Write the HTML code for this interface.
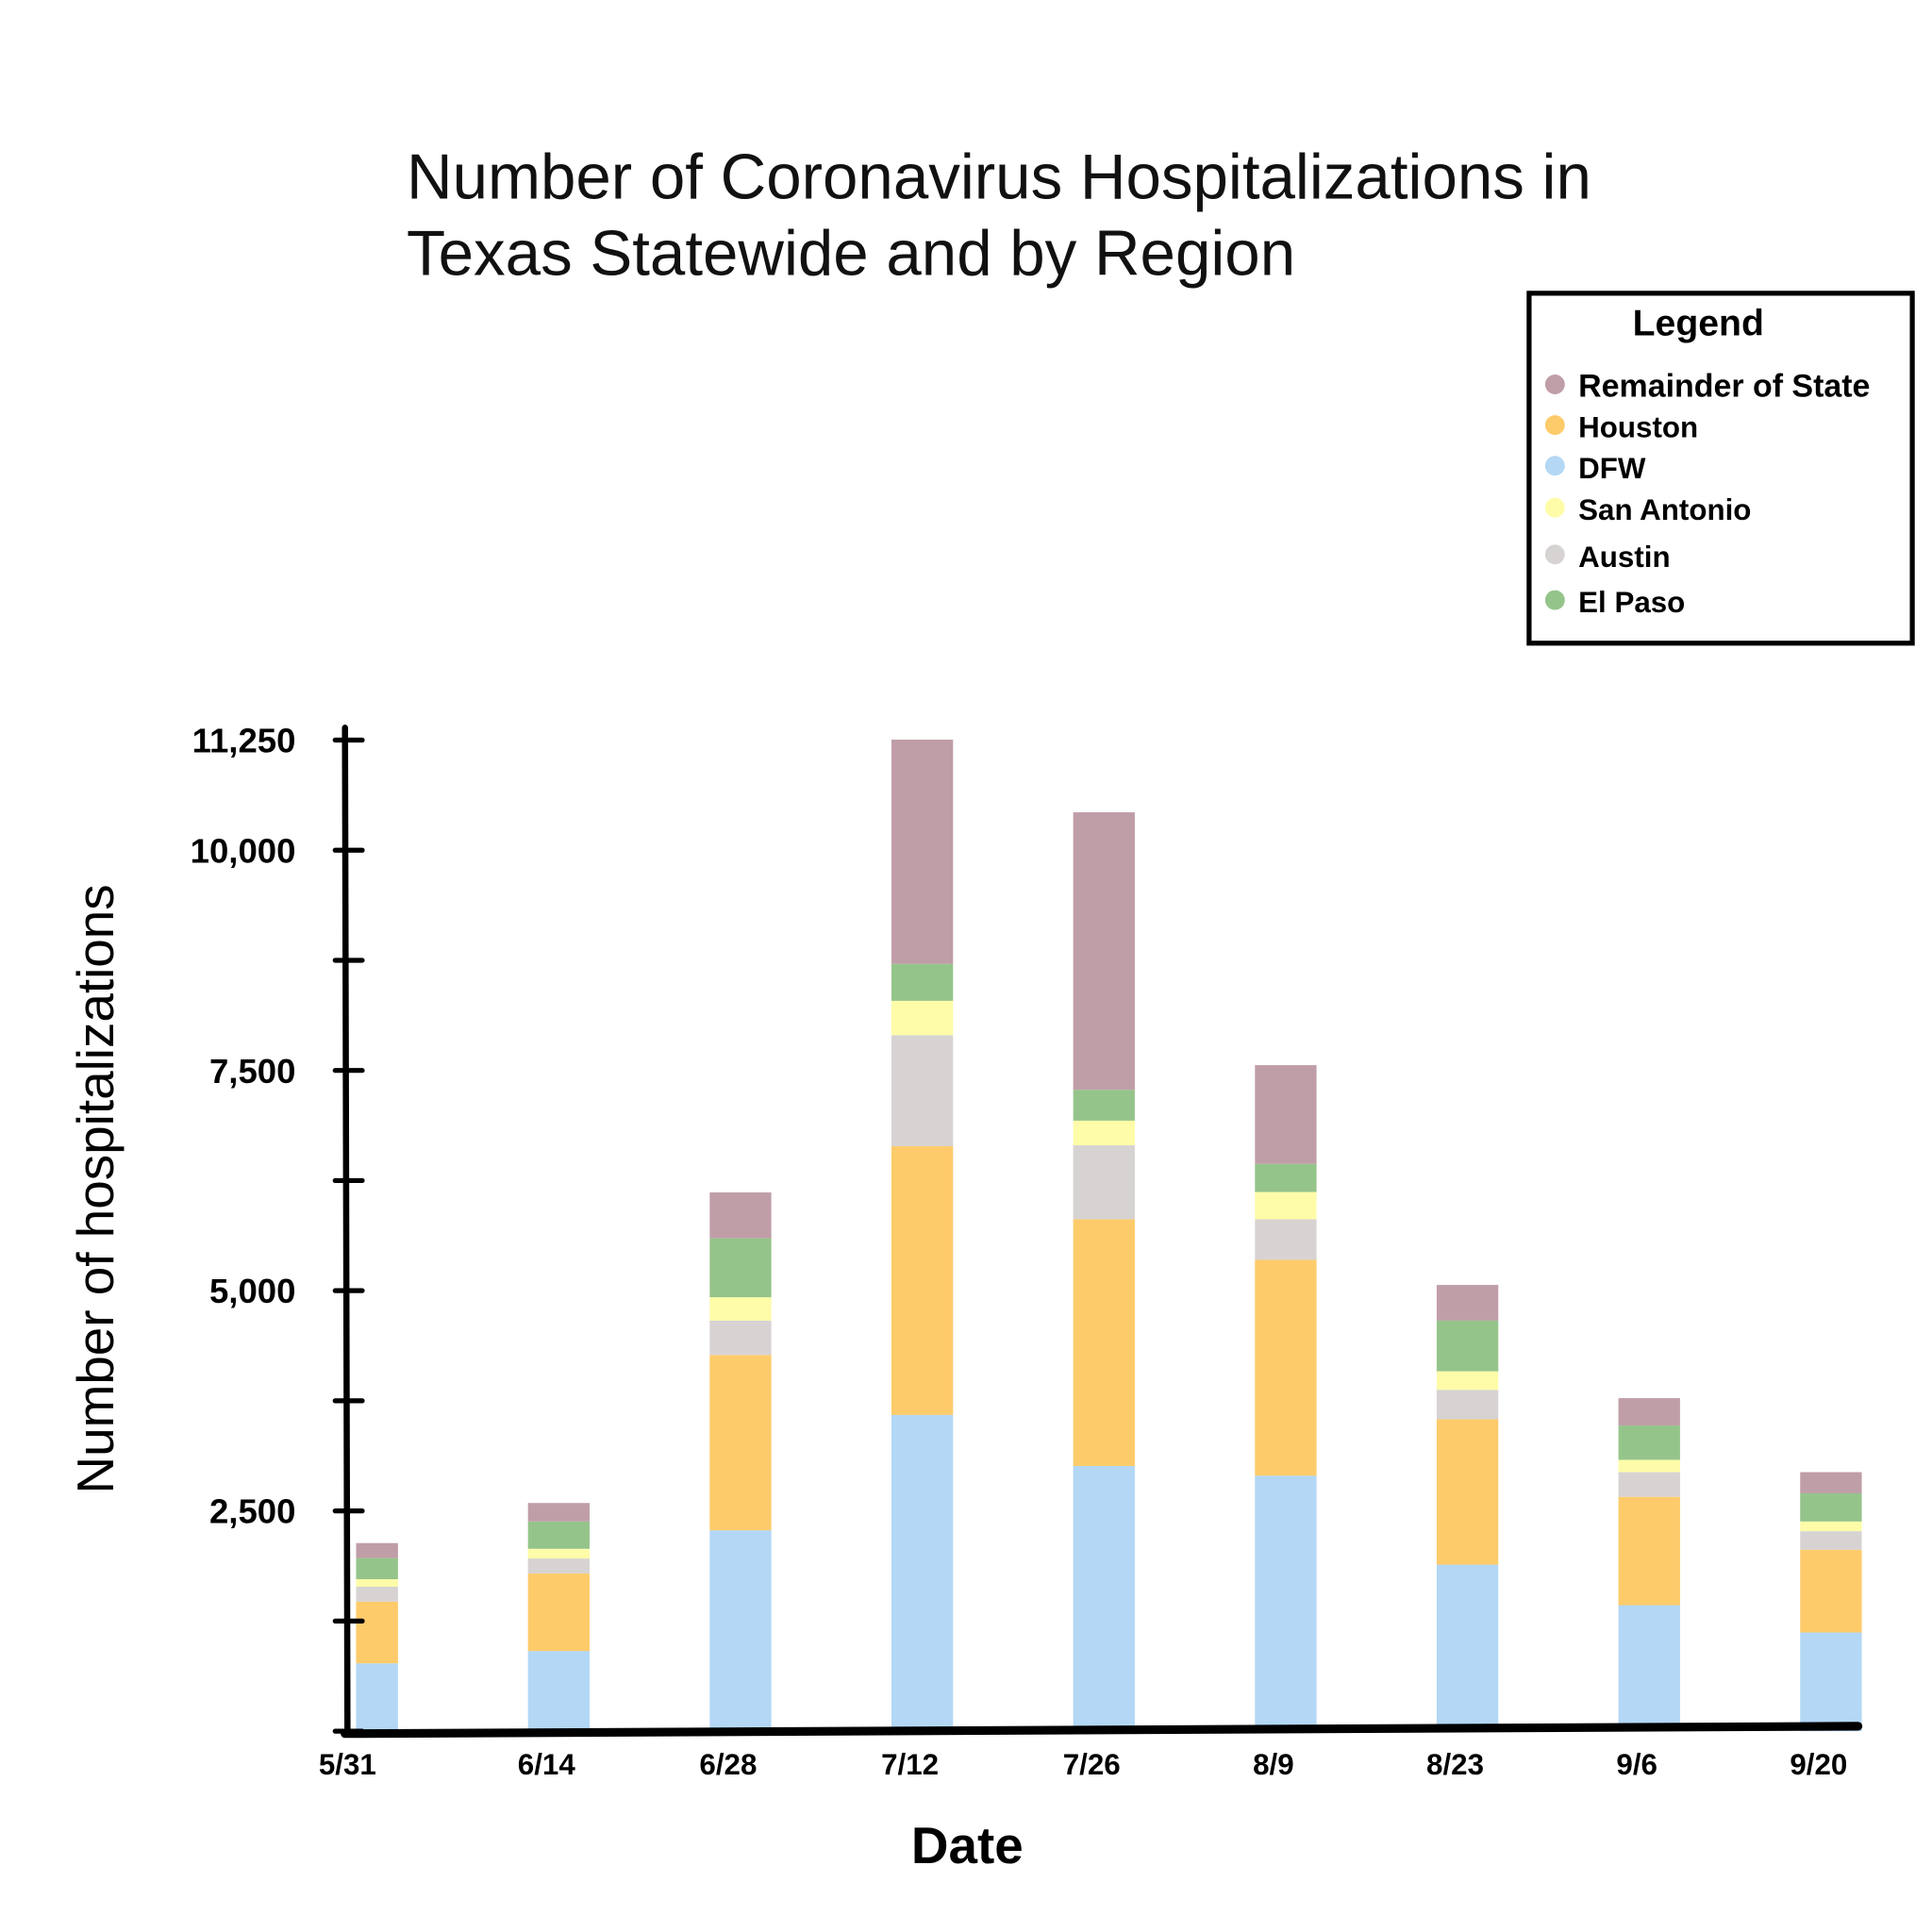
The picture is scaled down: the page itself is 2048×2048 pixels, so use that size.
<!DOCTYPE html>
<html><head><meta charset="utf-8"><style>
html,body{margin:0;padding:0;background:#fff;}
svg{display:block;font-family:"Liberation Sans",sans-serif;}
</style></head><body>
<svg id="chart" width="2048" height="2048" viewBox="0 0 1568 1568" xmlns="http://www.w3.org/2000/svg">
<rect width="1568" height="1568" fill="#fff"/>
<g font-size="51.5" fill="#111">
<text x="330" y="161">Number of Coronavirus Hospitalizations in</text>
<text x="330" y="223">Texas Statewide and by Region</text>
</g>
<g id="bars"></g>
<g id="axes"></g>
<g>
<rect x="1241" y="238" width="311" height="284" fill="none" stroke="#000" stroke-width="4"/>
<text x="1325" y="272" font-size="30" font-weight="bold">Legend</text>
<g id="legend-items"></g>
</g>
<text x="785" y="1512" font-size="42" text-anchor="middle" font-weight="bold">Date</text>
<text transform="translate(92,965) rotate(-90)" font-size="42" text-anchor="middle">Number of hospitalizations</text>
</svg>
<script>
const categories = ["5/31","6/14","6/28","7/12","7/26","8/9","8/23","9/6","9/20"];
const seriesNames = ["DFW","Houston","Austin","San Antonio","El Paso","Remainder of State"];
const dfw = [770,910,2280,3590,3010,2900,1890,1430,1120];
const houston = [700,880,1990,3050,2800,2450,1650,1230,940];
const austin = [170,170,390,1260,840,460,335,280,210];
const sanAntonio = [85,110,265,390,280,310,210,140,110];
const elPaso = [240,310,670,420,350,320,575,390,320];
const remainder = [170,210,520,2545,3150,1120,405,310,240];
const yTickValues = [0,1250,2500,3750,5000,6250,7500,8750,10000,11250];
const yTickLabels = ["","","2,500","","5,000","","7,500","","10,000","11,250"];
const legendOrder = ["Remainder of State","Houston","DFW","San Antonio","Austin","El Paso"];

const colors = {"DFW":"#b3d7f5","Houston":"#fdcb6a","Austin":"#d7d3d3","San Antonio":"#fefca8","El Paso":"#95c48b","Remainder of State":"#c09ea7"};
const series = [dfw,houston,austin,sanAntonio,elPaso,remainder];
const NS="http://www.w3.org/2000/svg";
function y(v){return 1405 - v*0.0715;}
function x(i){return 306 + i*147.5;}
const barW = 50;
const bars=document.getElementById('bars');
categories.forEach((c,i)=>{
  let cum=0;
  const w = i===0 ? 34 : barW;
  series.forEach((s,k)=>{
    const r=document.createElementNS(NS,'rect');
    r.setAttribute('x',x(i)-w/2);
    r.setAttribute('y',y(cum+s[i]));
    r.setAttribute('width',w);
    r.setAttribute('height',y(cum)-y(cum+s[i]));
    r.setAttribute('fill',colors[seriesNames[k]]);
    
    
    bars.appendChild(r);
    cum+=s[i];
  });
});
const axes=document.getElementById('axes');
function line(x1,y1,x2,y2,w,name){
  const l=document.createElementNS(NS,'line');
  l.setAttribute('x1',x1);l.setAttribute('y1',y1);l.setAttribute('x2',x2);l.setAttribute('y2',y2);
  l.setAttribute('stroke','#000');l.setAttribute('stroke-width',w);l.setAttribute('stroke-linecap','round');
  
  
  axes.appendChild(l);
}
line(280,y(11250)-10,282,1407,5,'y-axis-line');
line(280,1407,1508,1401,7,'x-axis-line');
yTickValues.forEach((v,i)=>{
  line(272,y(v),294,y(v),4,'y-tick');
  if(yTickLabels[i]){
    const t=document.createElementNS(NS,'text');
    t.setAttribute('x',240);t.setAttribute('y',y(v)+10);
    t.setAttribute('text-anchor','end');t.setAttribute('font-size','28');t.setAttribute('font-weight','bold');
    
    
    t.textContent=yTickLabels[i];axes.appendChild(t);
  }
});
categories.forEach((c,i)=>{
  const t=document.createElementNS(NS,'text');
  t.setAttribute('x',i===0?282:x(i)-10);t.setAttribute('y',1440);
  t.setAttribute('text-anchor','middle');t.setAttribute('font-size','24');t.setAttribute('font-weight','bold');
  
  
  t.textContent=c;axes.appendChild(t);
});
const li=document.getElementById('legend-items');
const ly=[312,345,378,412,450,487];
legendOrder.forEach((n,i)=>{
  const g=document.createElementNS(NS,'g');
  
  
  const c=document.createElementNS(NS,'circle');
  c.setAttribute('cx',1262);c.setAttribute('cy',ly[i]);c.setAttribute('r',8);c.setAttribute('fill',colors[n]);
  const t=document.createElementNS(NS,'text');
  t.setAttribute('x',1281);t.setAttribute('y',ly[i]+10);
  t.setAttribute('font-size',i==0?26:24);t.setAttribute('font-weight','bold');
  t.textContent=n;
  g.appendChild(c);g.appendChild(t);li.appendChild(g);
});
</script>
</body></html>
